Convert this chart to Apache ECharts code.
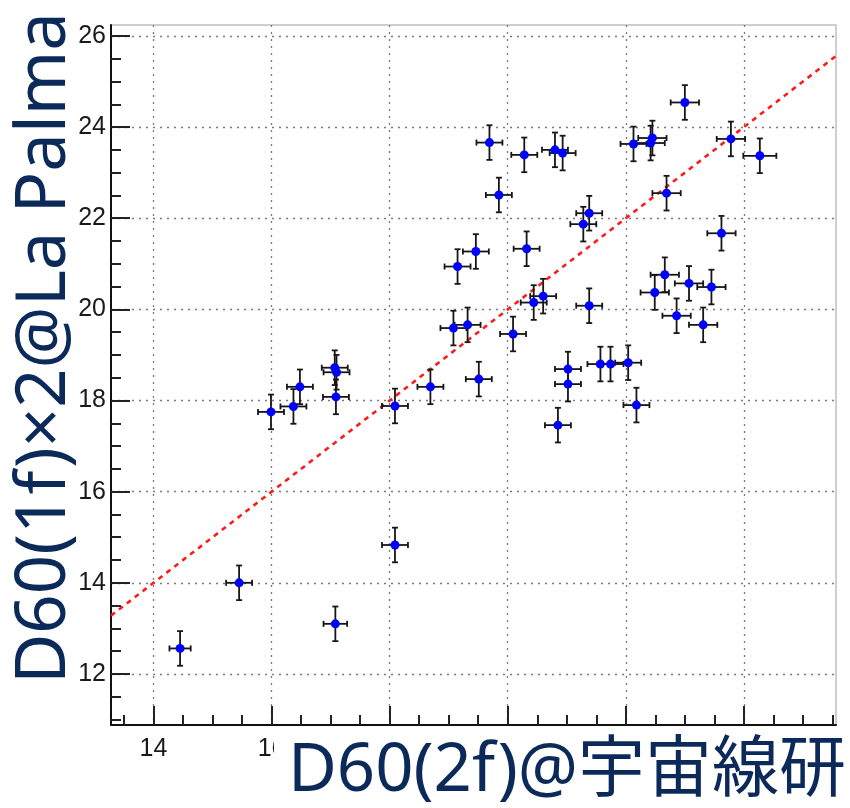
<!DOCTYPE html>
<html>
<head>
<meta charset="utf-8">
<script src="https://cdn.jsdelivr.net/npm/echarts@6/dist/echarts.min.js"></script>
<style>
html,body{margin:0;padding:0;background:#fff;}
#chart{width:850px;height:808px;}
</style>
</head>
<body>
<div id="chart"></div>
<script>
// ---- data ----
const xVals = [14.45,15.45,17.08,18.09,15.99,16.37,16.48,17.07,17.10,17.09,18.09,18.69,19.08,19.32,19.51,19.15,19.46,19.69,19.85,20.28,20.09,20.32,20.44,20.60,20.80,20.93,20.85,21.02,21.02,21.28,21.38,21.38,21.57,21.74,22.04,22.18,22.13,22.42,22.45,22.69,23.00,22.49,22.66,22.86,23.07,23.31,23.45,23.62,23.78,24.27];
const yVals = [12.56,14.00,13.10,14.83,17.75,17.87,18.30,18.72,18.62,18.08,17.88,18.30,19.59,19.66,18.47,20.94,21.27,23.66,22.51,23.39,19.46,21.33,20.15,20.29,23.50,23.43,17.46,18.69,18.36,21.87,22.11,20.08,18.80,18.80,18.83,17.90,23.63,23.65,23.76,22.55,24.54,20.37,20.76,19.86,20.57,19.66,20.49,21.67,23.74,23.37];
const xErr = [0.18,0.22,0.20,0.22,0.22,0.22,0.22,0.22,0.22,0.22,0.22,0.22,0.22,0.22,0.22,0.22,0.22,0.22,0.22,0.22,0.22,0.22,0.22,0.22,0.22,0.22,0.22,0.22,0.22,0.22,0.22,0.22,0.22,0.22,0.22,0.22,0.22,0.24,0.24,0.24,0.24,0.24,0.24,0.24,0.24,0.24,0.24,0.24,0.24,0.28];
const yErr = [0.38,0.38,0.38,0.38,0.38,0.38,0.38,0.38,0.38,0.38,0.38,0.38,0.38,0.38,0.38,0.38,0.38,0.38,0.38,0.38,0.38,0.38,0.38,0.38,0.38,0.38,0.38,0.38,0.38,0.38,0.38,0.38,0.38,0.38,0.38,0.38,0.38,0.38,0.38,0.38,0.38,0.38,0.38,0.38,0.38,0.38,0.38,0.38,0.38,0.38];

const xMin = 13.28, xMax = 25.56;
const yMin = 10.88, yMax = 26.24;
const xMajor = [14,16,18,20,22,24];
const xMinor = [13.5,14.5,15,15.5,16.5,17,17.5,18.5,19,19.5,20.5,21,21.5,22.5,23,23.5,24.5,25,25.5];
const yMajor = [12,14,16,18,20,22,24,26];
const yMinor = [11,11.5,12.5,13,13.5,14.5,15,15.5,16.5,17,17.5,18.5,19,19.5,20.5,21,21.5,22.5,23,23.5,24.5,25,25.5];
const diagX = [xMin, xMax];
const yTitle = 'D60(1f)×2@La Palma';
const xTitle = 'D60(2f)@宇宙線研';

const points = xVals.map((x,i)=>[x, yVals[i], xErr[i], yErr[i]]);

const chart = echarts.init(document.getElementById('chart'), null, {renderer:'canvas'});
const gridLine = {show:true, lineStyle:{color:'#7a7a7a', width:1.3, type:[2,5]}};
const tickFont = {fontSize:25, fontFamily:'Liberation Sans', color:'#1a1a1a'};

chart.setOption({
  animation:false,
  backgroundColor:'#fff',
  grid:{left:111, top:25, right:14, bottom:83, show:true, borderColor:'#c0c0c0', borderWidth:1.5, containLabel:false},
  xAxis:[
    {type:'value', min:xMin, max:xMax, position:'bottom', splitNumber:6,
     axisLine:{show:true, onZero:false, lineStyle:{color:'#111', width:2}},
     axisTick:{show:true, inside:true, length:19, customValues:xMajor, lineStyle:{color:'#222', width:2}},
     axisLabel:Object.assign({show:true, margin:12, customValues:xMajor}, tickFont),
     splitLine:gridLine},
    {type:'value', min:xMin, max:xMax, position:'bottom', gridIndex:0,
     axisLine:{show:false, onZero:false},
     axisTick:{show:true, inside:true, length:10, customValues:xMinor, lineStyle:{color:'#222', width:2}},
     axisLabel:{show:false}, splitLine:{show:false}}
  ],
  yAxis:[
    {type:'value', min:yMin, max:yMax, position:'left', splitNumber:8,
     axisLine:{show:true, onZero:false, lineStyle:{color:'#111', width:2}},
     axisTick:{show:true, inside:true, length:19, customValues:yMajor, lineStyle:{color:'#222', width:2}},
     axisLabel:Object.assign({show:true, margin:5, customValues:yMajor}, tickFont),
     splitLine:gridLine},
    {type:'value', min:yMin, max:yMax, position:'left', gridIndex:0,
     axisLine:{show:false, onZero:false},
     axisTick:{show:true, inside:true, length:10, customValues:yMinor, lineStyle:{color:'#222', width:2}},
     axisLabel:{show:false}, splitLine:{show:false}}
  ],
  series:[
    {type:'line', data:diagX.map(v=>[v,v]), symbol:'none', silent:true, z:3,
     lineStyle:{color:'#ff1a1a', width:2.6, type:[5,5]}},
    {type:'custom', data:points, z:4,
     renderItem:function(params, api){
       const x = api.value(0), y = api.value(1), ex = api.value(2), ey = api.value(3);
       const c = api.coord([x,y]);
       const l = api.coord([x-ex,y]), r = api.coord([x+ex,y]);
       const t = api.coord([x,y+ey]), b = api.coord([x,y-ey]);
       const st = {stroke:'#161616', lineWidth:1.8};
       const cap = 3;
       return {type:'group', children:[
         {type:'line', shape:{x1:l[0],y1:c[1],x2:r[0],y2:c[1]}, style:st},
         {type:'line', shape:{x1:c[0],y1:t[1],x2:c[0],y2:b[1]}, style:st},
         {type:'line', shape:{x1:c[0]-cap,y1:t[1],x2:c[0]+cap,y2:t[1]}, style:st},
         {type:'line', shape:{x1:c[0]-cap,y1:b[1],x2:c[0]+cap,y2:b[1]}, style:st},
         {type:'line', shape:{x1:l[0],y1:c[1]-cap,x2:l[0],y2:c[1]+cap}, style:st},
         {type:'line', shape:{x1:r[0],y1:c[1]-cap,x2:r[0],y2:c[1]+cap}, style:st}
       ]};
     }},
    {type:'scatter', data:points.map(p=>[p[0],p[1]]), symbol:'circle', symbolSize:9, z:5,
     itemStyle:{color:'#0000ff', opacity:1}}
  ],
  graphic:[
    {type:'text', x:45, y:684, rotation:Math.PI/2, z:100,
     style:{text:yTitle, fontSize:69, fontFamily:'Noto Sans', fill:'#0b2a5a', align:'left', verticalAlign:'middle'}},
    {type:'text', x:846, y:772, z:100,
     style:{text:xTitle, fontSize:67, fontFamily:'Noto Sans, Noto Sans CJK JP', fill:'#0b2a5a', align:'right', verticalAlign:'middle',
            backgroundColor:'#ffffff', padding:[8,0,0,14]}}
  ]
});
</script>
</body>
</html>
